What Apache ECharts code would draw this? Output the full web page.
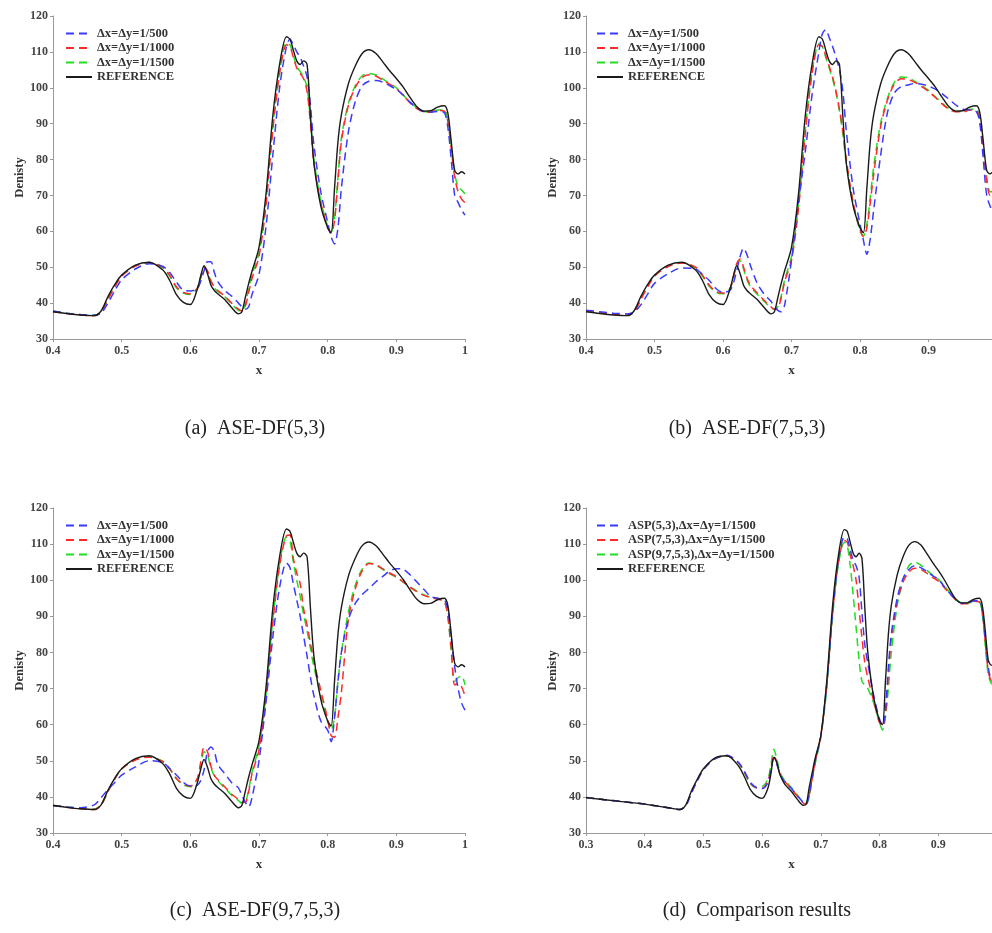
<!DOCTYPE html>
<html>
<head>
<meta charset="utf-8">
<script src="https://cdn.jsdelivr.net/npm/echarts@6/dist/echarts.min.js"></script>
<style>
html,body{margin:0;padding:0;background:#fff;overflow:hidden;width:992px;height:933px;}
.p{position:absolute;width:496px;}
</style>
</head>
<body>
<div id="pa" class="p" style="left:0;top:0;height:466px;"></div>
<div id="pb" class="p" style="left:496px;top:0;height:466px;"></div>
<div id="pc" class="p" style="left:0;top:466px;height:467px;"></div>
<div id="pd" class="p" style="left:496px;top:466px;height:467px;"></div>
<script>
// common x grid (panels a-c)
const X = [0.40,0.42,0.44,0.46,0.47,0.48,0.49,0.50,
  0.52,0.54,0.56,0.57,0.58,0.59,0.60,
  0.61,0.615,0.62,0.625,0.63,0.635,0.64,0.65,0.66,0.67,0.675,0.68,0.685,0.69,0.70,
  0.71,0.72,0.73,0.74,0.745,0.75,0.755,0.76,0.765,0.77,0.775,0.78,0.79,0.80,
  0.805,0.81,0.815,0.82,0.83,0.84,0.85,0.86,0.87,0.88,0.89,0.90,
  0.91,0.92,0.93,0.94,0.95,0.96,0.97,0.975,0.98,0.985,0.99,0.995,1.00];
// panel d x grid
const XD = [0.30,0.35].concat(X);

const REF = [37.6,37.1,36.7,36.5,37.8,41.8,45.2,47.8,
  50.6,51.4,49.2,46.3,42.3,40.2,39.6,
  43.8,47.5,50.4,48.2,45.0,43.5,42.6,41.0,38.8,37.0,37.6,41.5,45.5,49.0,55.5,
  70,92,106.5,114.2,113.6,110.5,107.5,106.5,107.5,106.5,92,79,67,61,
  59.6,72,85,92.5,101,106,109.5,110.6,109.6,107.3,104.8,102.6,
  100.2,97.3,94.7,93.5,93.6,94.6,95.0,93.0,85.0,77.0,76.0,76.6,76.0];

// (a) ASE-DF(5,3)
const A500 = [37.8,37.2,36.8,36.6,37.2,40.0,43.5,46.5,
  49.5,51.0,50.2,48.5,45.8,43.6,43.4,
  44.0,46.0,49.0,51.5,51.5,48.5,46.0,43.5,42.0,40.0,39.0,38.3,39.0,42.5,48.0,
  61,81,100,111.5,113.5,112,110,108.5,106,103,95,84,71,62.5,
  58.5,56.5,61,72,87.5,96,100.5,101.8,102,101.6,100.6,99.5,
  98,96,94.3,93.4,93.2,93.4,93.0,89.0,80.0,70.0,68.0,66.0,64.5];
const A1000 = [37.6,37.1,36.7,36.5,37.6,41.0,44.5,47.5,
  50.3,51.3,50.0,47.8,44.5,43.0,42.6,
  44.2,47.0,50.0,49.0,46.2,44.5,43.5,42.0,40.0,38.3,37.8,39.0,43.0,47.0,53.0,
  67,88,104,112,111.5,108.5,105.5,104,102.5,99,90,79,68,61,
  59.5,63,74,85,95,100,102.8,103.6,103.3,102.2,101,99.8,
  97.8,95.8,94.2,93.3,93.2,93.7,93.5,90.5,83,75,71,69,68];
const A1500 = [37.7,37.2,36.8,36.6,37.7,41.3,44.8,47.7,
  50.4,51.3,49.8,47.5,44.2,42.8,42.4,
  44.0,47.0,50.2,48.8,46.0,44.2,43.3,41.8,39.8,38.0,37.8,39.8,44.0,48.0,54.0,
  68,89,104.5,112.5,112,109,106,104.5,103,100,91,80,68.5,61.5,
  59.8,64,75,86,95.5,100.5,103.3,104.0,103.6,102.5,101.2,100,
  98,96,94.4,93.4,93.3,93.8,93.8,91,84,76,72.5,71.5,70.5];

// (b) ASE-DF(7,5,3)
const B500 = [38.0,37.6,37.2,37.0,37.5,39.5,42.5,45.5,
  48.2,49.8,49.5,48.0,46.3,44.0,43.0,
  43.5,45.5,49.0,53.0,55.3,53.5,50.5,45.5,42.5,40.5,39.0,38.0,37.6,39.5,52.0,
  68,82,98,110,115,116.2,114,111.5,108.5,105,99,88,72,62,
  57.5,53.6,58,66,81,93,98.5,100.3,100.8,101.2,101,100.5,
  99.6,98.3,96.8,95.2,94.0,93.8,93.3,90,80,70,67,65,64];
const B1000 = [37.8,37.3,36.9,36.6,37.5,41.0,44.5,47.5,
  50.2,51.2,50.0,47.8,45.0,43.2,42.8,
  44.0,47.0,51.0,52.3,50.0,47.0,45.0,42.8,40.8,39.0,38.3,38.5,41.5,46.0,52.0,
  66,87,104,112,111.5,109,106,103,99,94,88,80,68,60.5,
  58.5,61,68,76,89,96.5,101,102.5,102.3,101.5,100.3,99,
  97.3,95.5,94,93.3,93.3,93.8,93.6,91,83,74,70,70,69];
const B1500 = [37.8,37.3,36.9,36.6,37.6,41.2,44.7,47.6,
  50.3,51.2,49.8,47.5,44.7,43.0,42.6,
  44.0,47.0,50.8,51.8,49.5,46.5,44.6,42.5,40.5,38.8,38.3,39.0,42.0,46.5,53.0,
  67,88,104.5,112.2,111.5,108.5,105.5,102.5,98.5,93.5,87,79,68,60,
  58.8,62,69.5,78,90,97,101.5,103,102.8,101.8,100.6,99.3,
  97.5,95.7,94.2,93.4,93.4,94.0,94.0,91.5,84,75,71,71,70];

// (c) ASE-DF(9,7,5,3)
const C500 = [37.6,37.2,37.0,37.8,39.8,42.0,44.0,46.0,
  48.3,50.0,49.5,47.8,46.0,44.0,43.0,
  43.2,44.5,47.5,52.5,53.8,52.5,49.0,46.5,44.0,42.5,40.5,38.5,37.2,40.0,50.0,
  66,84,98,104.8,103.5,99,94.5,90,84.5,79,73,68,61,58.5,
  55.3,62,72,80,89,93.5,96,97.7,99.5,101,102.5,103.2,
  103,101.5,99.5,97.5,95.5,95,94.5,92,84,76,70,66,64];
const C1000 = [37.6,37.1,36.7,36.5,37.8,41.5,45.0,47.8,
  50.2,51.0,49.8,47.8,45.0,43.5,43.0,
  45.0,49.5,53.8,52.5,48.5,46.0,44.8,42.8,40.8,39.3,38.5,38.5,41.5,46.5,53,
  67,88,104,112.3,112.5,106,102,99,92,87.5,82.5,77.5,69.5,61.5,
  57,56.5,62,69,89,97.5,102.5,104.6,104.3,103.2,102,101,
  99.5,98,96.8,95.8,95.2,94.8,94,90,81,71,71.5,70.5,68];
const C1500 = [37.7,37.2,36.8,36.6,37.8,41.5,45.0,47.8,
  50.3,51.1,49.8,47.8,45.0,43.3,42.8,
  45.0,48.5,52.5,51.5,48.0,45.8,44.5,42.5,40.5,39.0,38.3,38.5,42.0,47.0,54,
  68,89,104.5,112,111,105,100,95.5,90.5,86,81,76,68,61,
  58.5,62,72,80,91,98.5,103,104.8,104.2,103,101.8,100.8,
  99.5,98.2,97,96,95.3,95,94,90,80,72,73,73.5,71];

// (d) comparison, on XD
const D53 = [39.8,38.9,
  38.0,37.5,37.0,36.5,37.6,41.3,44.7,47.6,
  50.6,51.5,49.5,47.0,44.0,42.6,42.3,
  44.0,47.5,50.5,49.0,46.5,45.0,44.0,42.3,40.3,38.5,38.0,40.5,45.0,49.5,57,
  71,91,105.5,112,111.5,108.5,105.5,104,101,91,82,77,68,61.5,
  59.6,64,76,85,95,100.5,103,104,103.5,102.5,101.3,100.2,
  98.3,96.3,94.6,93.6,93.6,94.3,94.3,91.5,84,76,72.5,71.5,71];
const D753 = [39.8,38.9,
  38.0,37.5,37.0,36.5,37.6,41.3,44.7,47.6,
  50.6,51.4,49.4,46.8,43.8,42.5,42.3,
  44.5,48.0,51.5,49.5,46.5,45.0,44.0,42.2,40.2,38.3,38.0,40.5,45.0,49.5,57,
  71,91,105,111,110.5,107,104,100,92,84,77,73,66.5,60.5,
  59.5,63,74,84,94,99.5,102.3,103.3,103,102,100.8,99.8,
  98,96.2,94.5,93.5,93.5,94.2,94.0,91,83,75,72,71.5,71];
const D9753 = [39.8,38.9,
  38.0,37.5,37.0,36.5,37.6,41.3,44.7,47.6,
  50.6,51.3,49.3,46.6,43.6,42.6,42.8,
  45.0,49.0,53.2,50.5,47.0,45.3,44.3,42.5,40.5,38.5,38.2,40.0,44.5,49.0,56.5,
  70,90,104.5,110.5,109.5,104,96,87,78,72,71,70,66,60.5,
  58.5,62,70,80,93,100,104,105,104.2,102.8,101.5,100.3,
  98.5,96.5,94.8,93.7,93.6,94.2,94.0,90.5,82,74,71.5,71,70.5];
const REF_D = [39.8,38.9,
  38.0,37.5,37.0,36.5,37.8,41.8,45.0,47.8,
  50.8,51.4,48.5,45.5,42.0,40.2,39.6,
  42.5,46.5,51.0,49.5,46.3,44.5,43.2,41.5,39.3,37.7,38.0,42.5,46.5,50.5,57,
  72,93,107,114,113.5,110.5,107.5,106.5,107.5,106,92,80,67.5,61,
  60.0,72,85,93,101.5,106.5,109.7,110.7,109.8,107.5,105,102.7,
  100.2,97.3,94.7,93.7,93.8,94.7,95.0,93.0,86,78,76.5,76.5,76];

const NAMES_ABC = ['\u0394x=\u0394y=1/500','\u0394x=\u0394y=1/1000','\u0394x=\u0394y=1/1500','REFERENCE'];
const NAMES_D = ['ASP(5,3),\u0394x=\u0394y=1/1500','ASP(7,5,3),\u0394x=\u0394y=1/1500','ASP(9,7,5,3),\u0394x=\u0394y=1/1500','REFERENCE'];
const CAPTIONS = ['(a)  ASE-DF(5,3)','(b)  ASE-DF(7,5,3)','(c)  ASE-DF(9,7,5,3)','(d)  Comparison results'];

const COLORS = ['#3a3aff','#ff2a2a','#22dd22','#1a1a1a'];
const SERIF = '"Liberation Serif","Times New Roman",serif';

function pairs(xs, ys){ return xs.map((x,i)=>[x, ys[i]]); }

function build(el, cfg){
  const chart = echarts.init(document.getElementById(el), null, {renderer:'canvas'});
  const series = cfg.data.map((ys,i)=>({
    type:'line', name: cfg.names[i], data: pairs(cfg.xs, ys),
    showSymbol:false, symbol:'none', smooth:0.3, silent:true, animation:false,
    lineStyle:{color:COLORS[i], width: i===3?1.4:1.5, type: i===3?'solid':[8,5]},
    itemStyle:{color:COLORS[i]}, z: i===3?5:(4-i)
  }));
  chart.setOption({
    animation:false,
    backgroundColor:'#fff',
    title:{text:cfg.caption, left:cfg.capX, top:cfg.capY, textAlign:'center',
      textStyle:{fontFamily:SERIF, fontSize:20, fontWeight:'normal', color:'#222'}},
    legend:{orient:'vertical', left:cfg.legX, top:cfg.legY, padding:0, itemWidth:26, itemHeight:12, itemGap:1.5,
      data:cfg.names, selectedMode:false,
      itemStyle:{opacity:0, borderWidth:0},
      textStyle:{fontFamily:SERIF, fontSize:12.5, fontWeight:'bold', color:'#333'}},
    grid:{left:cfg.gl, top:cfg.gt, width:cfg.gw, height:cfg.gh, containLabel:false, outerBoundsMode:'none'},
    xAxis:{type:'value', min:cfg.xmin, max:1, interval:0.1,
      name:'x', nameLocation:'middle', nameGap:25, nameMoveOverlap:false,
      nameTextStyle:{fontFamily:SERIF, fontSize:13, fontWeight:'bold', color:'#333'},
      axisLine:{show:true, lineStyle:{color:'#999', width:1}},
      axisTick:{show:true, length:3, lineStyle:{color:'#999'}},
      axisLabel:{fontFamily:SERIF, fontSize:12, fontWeight:'bold', color:'#444', margin:6},
      splitLine:{show:false}},
    yAxis:{type:'value', min:30, max:120, interval:10,
      name:'Denisty', nameLocation:'middle', nameGap:27, nameMoveOverlap:false,
      nameTextStyle:{fontFamily:SERIF, fontSize:12.5, fontWeight:'bold', color:'#333'},
      axisLine:{show:true, lineStyle:{color:'#999', width:1}},
      axisTick:{show:true, length:3, lineStyle:{color:'#999'}},
      axisLabel:{fontFamily:SERIF, fontSize:12, fontWeight:'bold', color:'#444', margin:5},
      splitLine:{show:false}},
    series: series
  });
}

build('pa', {xs:X, data:[A500,A1000,A1500,REF], names:NAMES_ABC, caption:CAPTIONS[0],
  capX:250, capY:414, legX:65, legY:27, gl:53, gt:16, gw:412, gh:323, xmin:0.4});
build('pb', {xs:X, data:[B500,B1000,B1500,REF], names:NAMES_ABC, caption:CAPTIONS[1],
  capX:246, capY:414, legX:100, legY:27, gl:90, gt:16, gw:411, gh:323, xmin:0.4});
build('pc', {xs:X, data:[C500,C1000,C1500,REF], names:NAMES_ABC, caption:CAPTIONS[2],
  capX:250, capY:430, legX:65, legY:53, gl:53, gt:42, gw:412, gh:325, xmin:0.4});
build('pd', {xs:XD, data:[D53,D753,D9753,REF_D], names:NAMES_D, caption:CAPTIONS[3],
  capX:256, capY:430, legX:100, legY:53, gl:90, gt:42, gw:411, gh:325, xmin:0.3});
</script>
</body>
</html>
